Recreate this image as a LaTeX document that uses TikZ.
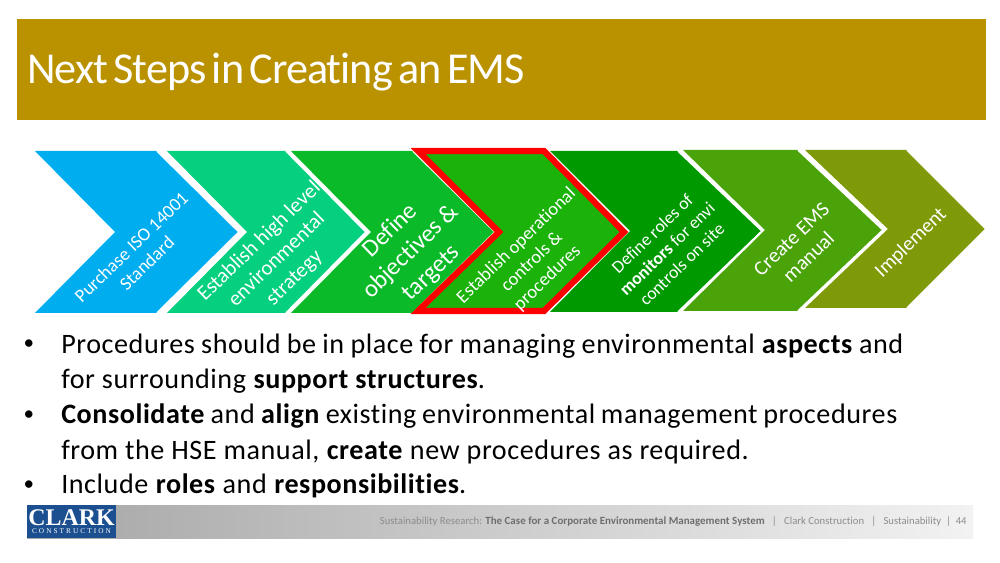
\documentclass[tikz,border=0pt]{standalone}
\usepackage{xcolor}
\usepackage{fontspec}
\setmainfont{Carlito}[Ligatures=NoCommon]
\newfontfamily\logofont{Liberation Serif}
\newfontfamily\titlefont{Carlito}[WordSpace=0.6,LetterSpace=-2.2,Ligatures=NoCommon]
\usetikzlibrary{positioning, arrows.meta}
\definecolor{titlegold}{HTML}{BA9200}
\definecolor{stepa}{HTML}{00ADEF}
\definecolor{stepb}{HTML}{04D07F}
\definecolor{stepc}{HTML}{0ABA28}
\definecolor{stepd}{HTML}{1BB30A}
\definecolor{stepe}{HTML}{009A00}
\definecolor{stepf}{HTML}{4BA30A}
\definecolor{stepg}{HTML}{7F9A08}
\definecolor{logoblue}{HTML}{1B4F8F}
\definecolor{footgray}{HTML}{8C8C8C}
\definecolor{footdark}{HTML}{6E6E6E}
\newcommand{\fullline}[2]{\makebox[\dimexpr 0.025cm*#1\relax][s]{#2}}
\begin{document}
\begin{tikzpicture}[
    x=0.025cm, y=-0.025cm,
    chev/.style={draw=white, line width=1.2pt, line join=miter},
    steplabel/.style={text=white, rotate=44, align=center, inner sep=0pt,
        font=\fontsize{#1}{#1}\selectfont\setlength{\baselineskip}{1.2\baselineskip}},
    bullet/.style={anchor=west, inner sep=0pt, align=left,
        font=\fontsize{20}{25.2}\selectfont\addfontfeature{LetterSpace=2}},
    dot/.style={inner sep=0pt, font=\fontsize{15}{15}\selectfont},
]
\useasboundingbox (0,0) rectangle (1000,563);
\fill[white] (0,0) rectangle (1000,563);

% title
\node[fill=titlegold, minimum width=969*0.025cm, minimum height=101*0.025cm, inner sep=0pt] (titlebar) at (501.5,69.5) {};
\node[text=white, anchor=base west, inner sep=0pt, font=\titlefont\fontsize{31.4}{31.4}\selectfont] (titletext) at (27,83.5) {Next Steps in Creating an EMS};

% chevrons, last one first
\foreach \xa/\xb/\xc/\xn/\yt/\ym/\yb/\col in {
    805/907/986/888/150/229/308/stepg,
    683/798/883/765/150/230/311/stepf,
    550/678/762/630/151/231/312/stepe,
    291/413/495/371/151/232/313/stepc,
    167/286/366/247/151/232/313/stepb,
    35/157/239/115/151/232/313/stepa}
{
    \fill[\col] (\xa,\yt) -- (\xb,\yt) -- (\xc,\ym) -- (\xb,\yb) -- (\xa,\yb) -- (\xn,\ym) -- cycle;
    \draw[chev] (\xb,\yt) -- (\xc,\ym) -- (\xb,\yb);
}
% highlighted step
\draw[fill=stepd, draw=red, line width=4.4pt, line join=miter] (418,151) -- (544,151) -- (624,232) -- (544,311) -- (418,311) -- (499,232) -- cycle;

\node[steplabel=13.2] (purchase) at (139,255) {Purchase ISO 14001\\Standard};
\node[steplabel=15] (strategy) at (277,260) {Establish high level\\environmental\\strategy};
\node[steplabel=17.5] (objectives) at (411,252) {Define\\objectives \&\\targets};
\node[steplabel=13.2] (controls) at (532,262) {Establish operational\\controls \&\\procedures};
\node[steplabel=12.6] (monitors) at (667,249) {Define roles of\\\textbf{monitors} for envi\\controls on site};
\node[steplabel=14.6] (manual) at (800,248) {Create EMS\\manual};
\node[steplabel=14.4] (implement) at (911,243) {Implement};

% bullets
\node[dot] (dota) at (29,345) {•};
\node[bullet] (texta) at (61,363.5) {\fullline{842}{Procedures should be in place for managing environmental \textbf{aspects} and}\\for surrounding \textbf{support structures}.};
\node[dot] (dotb) at (29,416) {•};
\node[bullet] (textb) at (61,434) {\fullline{836}{\textbf{Consolidate} and \textbf{align} existing environmental management procedures}\\from the HSE manual, \textbf{create} new procedures as required.};
\node[dot] (dotc) at (29,486) {•};
\node[bullet] (textc) at (61,486) {Include \textbf{roles} and \textbf{responsibilities}.};

% footer
\node[minimum width=946*0.025cm, minimum height=33*0.025cm, inner sep=0pt, left color=black!35, right color=black!5] (footband) at (500,521.5) {};
\node[fill=logoblue, minimum width=89*0.025cm, minimum height=33*0.025cm, inner sep=0pt] (logo) at (71.5,521.5) {};
\node[text=white, inner sep=0pt, font=\logofont\bfseries\fontsize{17}{17}\selectfont] (clark) at (71.5,517.5) {CLARK};
\node[text=white, inner sep=0pt, font=\logofont\fontsize{5.2}{5.2}\selectfont\addfontfeature{LetterSpace=28}] (construction) at (71.5,531) {CONSTRUCTION};
\node[anchor=east, inner sep=0pt, text=footgray, font=\fontsize{7.6}{8}\selectfont] (foottext) at (967,522)
    {Sustainability Research: \textcolor{footdark}{\bfseries\fontsize{7.8}{8}\selectfont The Case for a Corporate Environmental Management System}\ \ \ |\ \ \ Clark Construction\ \ \ |\ \ \ Sustainability\ \ |\ \ 44};
\end{tikzpicture}
\end{document}
